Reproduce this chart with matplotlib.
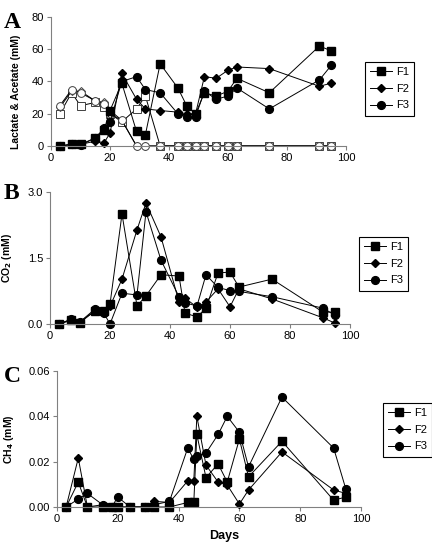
import numpy as np
import matplotlib
matplotlib.use("Agg")
import matplotlib.pyplot as plt

plt.rcParams['font.family'] = ['Liberation Sans', 'DejaVu Sans']
plt.rcParams['font.size'] = 8

series_names = ['F1', 'F2', 'F3']
series_markers = ['s', 'D', 'o']

# panel A: acetate (filled) and lactate (open), mM
days_a = [3, 7, 10, 15, 18, 20, 24, 29, 32, 37, 43, 46, 49, 52, 56, 60, 63, 74, 91, 95]
acetate_f1 = [0, 1, 1, 5, 10, 22, 39, 9, 7, 51, 36, 25, 20, 33, 31, 34, 42, 33, 62, 59]
acetate_f2 = [0, 1, 1, 3, 2, 8, 45, 29, 23, 22, 21, 20, 20, 43, 42, 47, 49, 48, 37, 39]
acetate_f3 = [0, 1, 0.5, 5, 11, 15, 40, 43, 35, 33, 20, 18, 18, 34, 29, 31, 36, 23, 41, 50]
lactate_f1 = [20, 33, 25, 27, 24, 20, 15, 23, 31, 0, 0, 0, 0, 0, 0, 0, 0, 0, 0, 0]
lactate_f2 = [24, 34, 34, 28, 27, 20, 16, 0, 0, 0, 0, 0, 0, 0, 0, 0, 0, 0, 0, 0]
lactate_f3 = [25, 35, 33, 28, 26, 22, 16, 0, 0, 0, 0, 0, 0, 0, 0, 0, 0, 0, 0, 0]

# panel B: CO2, mM
days_b = [3, 7, 10, 15, 18, 20, 24, 29, 32, 37, 43, 45, 49, 52, 56, 60, 63, 74, 91, 95]
co2_f1 = [0, 0.08, 0.03, 0.3, 0.3, 0.45, 2.5, 0.41, 0.64, 1.12, 1.09, 0.25, 0.16, 0.36, 1.16, 1.18, 0.84, 1.02, 0.27, 0.27]
co2_f2 = [0, 0.1, 0.05, 0.3, 0.25, 0.4, 1.02, 2.14, 2.75, 1.98, 0.5, 0.59, 0.38, 0.5, 0.8, 0.39, 0.8, 0.57, 0.14, 0.02]
co2_f3 = [0, 0.11, 0.05, 0.34, 0.24, 0.0, 0.7, 0.66, 2.55, 1.45, 0.62, 0.48, 0.41, 1.12, 0.83, 0.76, 0.74, 0.62, 0.36, 0.2]

# panel C: CH4, mM
days_c = [3, 7, 10, 15, 18, 20, 24, 29, 32, 37, 43, 45, 46, 49, 53, 56, 60, 63, 74, 91, 95]
ch4_f1 = [0, 0.011, 0, 0, 0, 0, 0, 0, 0, 0, 0.002, 0.002, 0.032, 0.013, 0.019, 0.011, 0.030, 0.0133, 0.029, 0.003, 0.0044]
ch4_f2 = [0, 0.0216, 0, 0.001, 0, 0, 0, 0, 0.0025, 0.002, 0.0115, 0.0115, 0.040, 0.0185, 0.011, 0.0097, 0.0013, 0.0075, 0.0243, 0.0075, 0.006]
ch4_f3 = [0, 0.0035, 0.006, 0.001, 0, 0.0044, 0, 0, 0.001, 0.0025, 0.026, 0.021, 0.0225, 0.0238, 0.032, 0.040, 0.033, 0.0177, 0.0485, 0.026, 0.008]

W, H = 432, 546
fig = plt.figure(figsize=(W / 100, H / 100), dpi=100)

def px_axes(left, top, right, bottom):
    return fig.add_axes([left / W, 1 - bottom / H, (right - left) / W, (bottom - top) / H])

ax_a = px_axes(51, 17, 346, 146)
ax_b = px_axes(50, 192, 350, 324)
ax_c = px_axes(57, 371, 361, 507)

msize = {'s': 5.8, 'D': 4.5, 'o': 5.6}

def style(ax, ylim, yticks, yfmt):
    for s in ['top', 'right']:
        ax.spines[s].set_visible(False)
    for s in ['left', 'bottom']:
        ax.spines[s].set_color('#808080')
        ax.spines[s].set_linewidth(0.8)
    ax.set_xlim(0, 100)
    ax.set_xticks(range(0, 101, 20))
    ax.set_ylim(*ylim)
    ax.set_yticks(yticks)
    ax.set_yticklabels([yfmt.format(v) for v in yticks])
    ax.tick_params(direction='out', length=3, width=0.8, color='#808080', labelsize=8, pad=2)

# panel A
for vals, mk in zip([lactate_f1, lactate_f2, lactate_f3], series_markers):
    ax_a.plot(days_a, vals, color='black', lw=0.7, marker=mk, ms=msize[mk],
              mfc='white', mec='#404040', mew=0.7, clip_on=False)
for vals, mk, name in zip([acetate_f1, acetate_f2, acetate_f3], series_markers, series_names):
    ax_a.plot(days_a, vals, color='black', lw=0.7, marker=mk, ms=msize[mk],
              mfc='black', mec='black', label=name, clip_on=False)
style(ax_a, (0, 80), [0, 20, 40, 60, 80], '{:g}')
ax_a.set_ylabel('Lactate & Acetate (mM)', fontweight='bold', fontsize=7.5)
ax_a.yaxis.set_label_coords(-0.1, 0.42)

# panel B
for vals, mk, name in zip([co2_f1, co2_f2, co2_f3], series_markers, series_names):
    ax_b.plot(days_b, vals, color='black', lw=0.7, marker=mk, ms=msize[mk],
              mfc='black', mec='black', label=name, clip_on=False)
style(ax_b, (0, 3.0), [0, 1.5, 3.0], '{:.1f}')
ax_b.set_ylabel('CO$_\\mathbf{2}$ (mM)', fontweight='bold', fontsize=7.5)
ax_b.yaxis.set_label_coords(-0.12, 0.5)

# panel C
for vals, mk, name in zip([ch4_f1, ch4_f2, ch4_f3], series_markers, series_names):
    ax_c.plot(days_c, vals, color='black', lw=0.7, marker=mk, ms=msize[mk],
              mfc='black', mec='black', label=name, clip_on=False)
style(ax_c, (0, 0.06), [0, 0.02, 0.04, 0.06], '{:.2f}')
ax_c.set_ylabel('CH$_\\mathbf{4}$ (mM)', fontweight='bold', fontsize=7.5)
ax_c.yaxis.set_label_coords(-0.135, 0.5)
ax_c.set_xlabel('Days', fontweight='bold', fontsize=9)
ax_c.xaxis.set_label_coords(0.55, -0.17)

def add_legend(ax, x, y):
    leg = ax.legend(loc='upper left', bbox_to_anchor=(x / W, 1 - y / H),
                    bbox_transform=fig.transFigure, fancybox=False,
                    edgecolor='black', framealpha=1, handlelength=2.0,
                    labelspacing=0.6, borderpad=0.5, handletextpad=0.3,
                    fontsize=8)
    leg.get_frame().set_linewidth(0.8)

add_legend(ax_a, 359, 56)
add_legend(ax_b, 353, 231)
add_legend(ax_c, 377, 397)

for letter, y in zip(['A', 'B', 'C'], [23, 193, 376]):
    fig.text(4 / W, 1 - y / H, letter, fontsize=17, fontweight='bold',
             family=['Liberation Serif', 'DejaVu Serif'], va='center', ha='left')

fig.savefig('out.png', dpi=100)
